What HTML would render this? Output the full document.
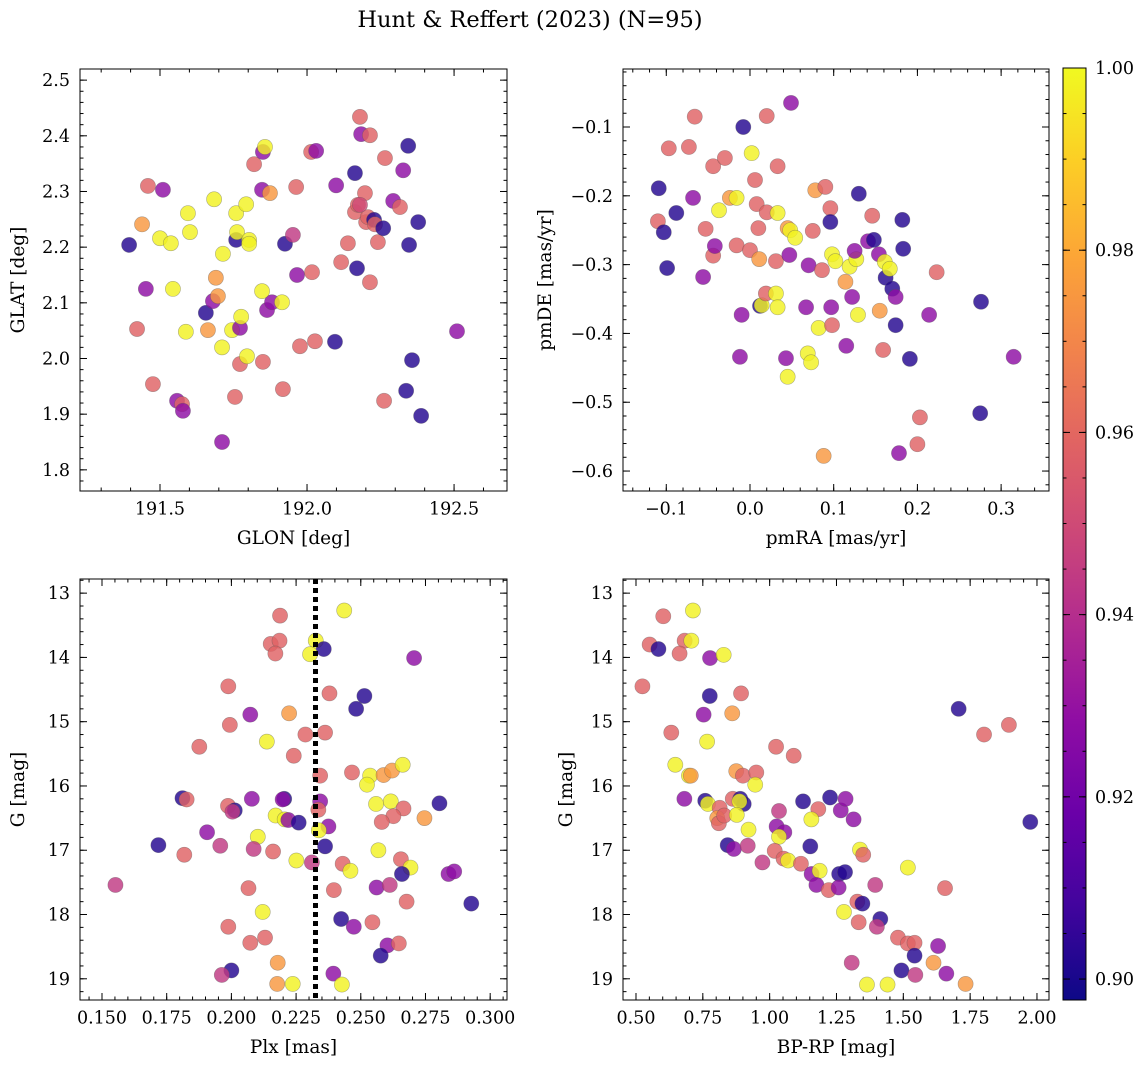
<!DOCTYPE html>
<html><head><meta charset="utf-8"><style>
html,body{margin:0;padding:0;background:#fff}
svg{display:block;font-family:"DejaVu Serif","Liberation Serif",serif}
</style></head><body>
<svg id="fig" width="1148" height="1068" viewBox="0 0 1148 1068" xmlns="http://www.w3.org/2000/svg">
<text x="530" y="27" font-size="22.5" text-anchor="middle">Hunt &amp; Reffert (2023) (N=95)</text>
</svg>
<script>
// colour classes: B=0.902 P=0.928 M=0.944 K=0.958 O=0.975 Y=0.998
const glon=[191.395,191.452,191.422,191.459,191.439,191.510,191.500,191.537,191.544,191.476,191.558,191.575,191.578,191.588,191.595,191.602,191.684,191.656,191.680,191.690,191.697,191.663,191.711,191.714,191.711,191.745,191.759,191.759,191.762,191.772,191.776,191.772,191.755,191.796,191.793,191.803,191.803,191.820,191.850,191.857,191.847,191.850,191.864,191.881,191.874,191.847,191.915,191.918,191.925,191.952,191.963,191.966,192.014,192.031,192.017,191.976,192.027,192.095,192.099,192.116,192.139,192.163,192.170,192.163,192.180,192.184,192.173,192.197,192.214,192.201,192.207,192.214,192.228,192.241,192.231,192.259,192.265,192.293,192.316,192.327,192.344,192.347,192.357,192.337,192.262,192.378,192.388,192.510,192.180];
const glat=[2.204,2.125,2.053,2.310,2.241,2.303,2.216,2.207,2.125,1.954,1.924,1.918,1.906,2.048,2.261,2.227,2.286,2.082,2.103,2.145,2.112,2.051,2.020,2.188,1.850,2.051,2.261,2.213,2.227,2.055,2.075,1.990,1.931,2.004,2.277,2.213,2.206,2.349,2.371,2.380,2.303,1.994,2.087,2.101,2.297,2.121,2.101,1.945,2.206,2.222,2.308,2.150,2.371,2.373,2.155,2.022,2.031,2.030,2.311,2.173,2.207,2.263,2.162,2.333,2.434,2.403,2.276,2.297,2.401,2.245,2.254,2.137,2.249,2.209,2.241,2.234,2.360,2.283,2.272,2.338,2.382,2.204,1.997,1.942,1.924,2.245,1.897,2.049,2.276];
const p1c="BPKKOPYYYKPKPYYYYBPOOOYYPYYBYPYKKYYYYKPYPKPPOYYKBMKPKPKKKBPKKKBBKPKKKKKKBKKBKPKPBBBBKBBP";

const pmra=[-0.110,-0.103,-0.097,-0.099,-0.088,-0.073,-0.066,-0.068,-0.053,-0.056,-0.044,-0.044,-0.042,-0.030,-0.037,-0.024,-0.016,-0.016,-0.008,-0.010,-0.012,0.000,0.002,0.006,0.008,0.010,0.011,0.012,0.014,0.020,0.020,0.019,0.031,0.033,0.033,0.031,0.033,0.045,0.048,0.049,0.054,0.047,0.043,0.045,0.067,0.070,0.069,0.073,0.075,0.078,0.082,0.086,0.090,0.088,0.096,0.096,0.098,0.097,0.098,0.102,0.114,0.115,0.119,0.122,0.127,0.129,0.130,0.125,0.141,0.146,0.148,0.154,0.155,0.159,0.161,0.162,0.167,0.170,0.174,0.174,0.178,0.182,0.183,0.191,0.200,0.203,0.214,0.223,0.276,0.275,0.315,-0.109];
const pmde=[-0.237,-0.253,-0.131,-0.305,-0.225,-0.129,-0.085,-0.203,-0.248,-0.318,-0.157,-0.287,-0.273,-0.145,-0.221,-0.203,-0.203,-0.272,-0.100,-0.373,-0.434,-0.279,-0.138,-0.177,-0.212,-0.247,-0.292,-0.360,-0.359,-0.084,-0.224,-0.342,-0.295,-0.157,-0.225,-0.342,-0.362,-0.247,-0.250,-0.065,-0.261,-0.286,-0.436,-0.463,-0.362,-0.301,-0.429,-0.442,-0.251,-0.192,-0.392,-0.308,-0.187,-0.578,-0.218,-0.238,-0.388,-0.362,-0.285,-0.295,-0.325,-0.418,-0.303,-0.347,-0.292,-0.373,-0.197,-0.280,-0.266,-0.229,-0.264,-0.285,-0.367,-0.424,-0.296,-0.319,-0.306,-0.335,-0.347,-0.388,-0.574,-0.235,-0.277,-0.437,-0.561,-0.522,-0.373,-0.311,-0.354,-0.516,-0.434,-0.189];
const p2c="KBKBBKKPKPKKPKYOYKBPPKYKKKOBYKKKKKYYYOYPYPPYPPYYKOYKKOKBKPYYOPYPYYBPPKBPOKYBYBPBPBBBKKPKBBPB";

const plx=[0.2188,0.2436,0.2152,0.2186,0.2170,0.2326,0.2357,0.2304,0.2706,0.1988,0.2379,0.2514,0.2482,0.2073,0.2223,0.1994,0.2286,0.2362,0.2137,0.1876,0.2241,0.2343,0.2466,0.2536,0.2588,0.2621,0.2662,0.2524,0.1811,0.1827,0.2079,0.2204,0.2198,0.2343,0.1987,0.2013,0.2004,0.2336,0.2559,0.2616,0.2665,0.2804,0.2171,0.2206,0.2220,0.2260,0.2626,0.2581,0.2746,0.2375,0.2338,0.1906,0.2102,0.1718,0.1957,0.2086,0.2362,0.1818,0.2161,0.2568,0.2251,0.2311,0.2430,0.2460,0.2655,0.2692,0.2659,0.2839,0.2861,0.1552,0.2066,0.2396,0.2561,0.2612,0.2677,0.2927,0.2121,0.2424,0.2473,0.2545,0.1988,0.2073,0.2130,0.2603,0.2647,0.2577,0.2179,0.2000,0.1963,0.2394,0.2177,0.2237,0.2427];
const gmag3=[13.35,13.27,13.79,13.74,13.94,13.74,13.87,13.95,14.01,14.45,14.56,14.60,14.80,14.89,14.87,15.05,15.20,15.17,15.31,15.39,15.53,15.84,15.79,15.84,15.83,15.76,15.67,15.98,16.19,16.21,16.20,16.20,16.21,16.24,16.31,16.38,16.40,16.37,16.28,16.24,16.35,16.27,16.46,16.52,16.53,16.57,16.47,16.56,16.50,16.63,16.69,16.72,16.79,16.92,16.93,16.98,16.94,17.07,17.02,17.00,17.16,17.19,17.21,17.32,17.14,17.27,17.37,17.37,17.33,17.54,17.59,17.62,17.58,17.54,17.80,17.83,17.96,18.07,18.19,18.12,18.19,18.44,18.36,18.48,18.45,18.64,18.75,18.87,18.94,18.92,19.08,19.08,19.09];
const p3c="KYKKKYBYPKKBBPOKKKYKKKKYOOYYBKPBPPKBMKYYKBYYPBKKOPYPYBMMBKKYYMKYKYBPPMKKPMKBYBPKKKKPKBOBMPOYY";

const bprp=[0.713,0.602,0.551,0.584,0.682,0.707,0.663,0.777,0.828,0.524,0.776,0.893,0.753,0.860,1.707,1.895,1.802,0.632,0.766,1.024,1.090,0.647,0.698,0.705,0.875,0.900,0.950,0.946,0.681,0.759,0.769,0.813,0.804,0.810,0.830,0.862,0.890,0.903,0.887,0.877,0.921,0.843,0.866,0.918,0.973,1.035,1.026,1.055,1.035,1.019,1.052,1.069,1.117,1.125,1.182,1.156,1.226,1.266,1.284,1.314,1.152,1.157,1.187,1.175,1.221,1.260,1.282,1.258,1.338,1.350,1.395,1.517,1.656,1.975,1.328,1.347,1.278,1.333,1.414,1.401,1.480,1.517,1.542,1.630,1.542,1.613,1.307,1.493,1.545,1.661,1.733,1.364,1.441];
const gmag4=[13.27,13.36,13.80,13.87,13.74,13.74,13.94,14.01,13.96,14.45,14.60,14.56,14.89,14.87,14.80,15.05,15.20,15.17,15.31,15.39,15.53,15.67,15.84,15.84,15.77,15.84,15.79,15.98,16.20,16.23,16.28,16.34,16.50,16.58,16.46,16.20,16.20,16.28,16.24,16.45,16.68,16.92,16.98,16.93,17.19,16.39,16.63,16.72,16.79,17.01,17.13,17.16,17.21,16.24,16.36,16.52,16.18,16.38,16.20,16.52,16.94,17.37,17.32,17.54,17.62,17.37,17.34,17.58,16.99,17.07,17.54,17.27,17.59,16.56,17.80,17.83,17.96,18.12,18.07,18.19,18.36,18.45,18.44,18.49,18.64,18.75,18.75,18.87,18.94,18.92,19.08,19.09,19.09];
const p4c="YKKBKYKPYKBKPOBKKKYKKYYOOKKYPBYKOKKKBBYYYBPMMMPPYKKYKBKYBPPPBPYPKBBPYKMYKBKBYKBMKKKPBOMBMPOYY";

const cbTicks=[0.90,0.92,0.94,0.96,0.98,1.00];
const plxRef=[0.2325];

const CLS={B:0.902,P:0.928,M:0.944,K:0.958,O:0.975,Y:0.998};
const VMIN=0.8977,VMAX=1.0;
const PL=[[13,8,135],[65,4,157],[106,0,168],[143,13,164],[177,42,144],[204,71,120],[225,100,98],[242,132,75],[252,166,54],[252,206,37],[240,249,33]];
function plasma(t){t=Math.max(0,Math.min(1,t));const f=t*10,i=Math.min(9,Math.floor(f)),u=f-i;const a=PL[i],b=PL[i+1];return 'rgb('+a.map((v,k)=>Math.round(v+(b[k]-v)*u)).join(',')+')';}
const NS='http://www.w3.org/2000/svg';
const svg=document.getElementById('fig');
function mk(tag,at,parent){const e=document.createElementNS(NS,tag);for(const k in at)e.setAttribute(k,at[k]);(parent||svg).appendChild(e);return e;}
function rng(a,b,s){const r=[];const n=Math.round((b-a)/s);for(let i=0;i<=n;i++)r.push(a+i*s);return r;}

function panel(o){
  const g=mk('g',{});
  
  
  const sx=v=>o.L+(v-o.xd[0])/(o.xd[1]-o.xd[0])*(o.R-o.L);
  const sy=v=>o.T+(v-o.yd[0])/(o.yd[1]-o.yd[0])*(o.B-o.T);
  const pg=mk('g',{},g);
  
  
  for(let i=0;i<o.xs.length;i++){
    const c=CLS[o.cs[i]]||0.95;
    const p=mk('circle',{cx:sx(o.xs[i]),cy:sy(o.ys[i]),r:7.6,fill:plasma((c-VMIN)/(VMAX-VMIN)),'fill-opacity':0.82,stroke:'#555','stroke-opacity':0.45,'stroke-width':0.6},pg);
    
    
  }
  if(o.vline){for(const v of o.vline){const l=mk('line',{x1:sx(v),x2:sx(v),y1:o.T,y2:o.B,stroke:'#000','stroke-width':5,'stroke-dasharray':'5 4'},g);
    
    }}
  const fr=mk('rect',{x:o.L,y:o.T,width:o.R-o.L,height:o.B-o.T,fill:'none',stroke:'#000','stroke-width':1},g);
  
  
  const lo=Math.min(o.xd[0],o.xd[1]),hi=Math.max(o.xd[0],o.xd[1]);
  const ylo=Math.min(o.yd[0],o.yd[1]),yhi=Math.max(o.yd[0],o.yd[1]);
  const inX=v=>v>=lo-1e-9&&v<=hi+1e-9, inY=v=>v>=ylo-1e-9&&v<=yhi+1e-9;
  for(const v of o.xMin){if(!inX(v))continue;const x=sx(v);mk('line',{x1:x,x2:x,y1:o.B,y2:o.B-3.5,stroke:'#000'},g);mk('line',{x1:x,x2:x,y1:o.T,y2:o.T+3.5,stroke:'#000'},g);}
  for(const v of o.yMin){if(!inY(v))continue;const y=sy(v);mk('line',{x1:o.L,x2:o.L+3.5,y1:y,y2:y,stroke:'#000'},g);mk('line',{x1:o.R,x2:o.R-3.5,y1:y,y2:y,stroke:'#000'},g);}
  o.xMaj.forEach((v,i)=>{if(!inX(v))return;const x=sx(v);mk('line',{x1:x,x2:x,y1:o.B,y2:o.B-7,stroke:'#000'},g);mk('line',{x1:x,x2:x,y1:o.T,y2:o.T+7,stroke:'#000'},g);
    const t=mk('text',{x:x,y:o.B+23.5,'font-size':17.5,'text-anchor':'middle'},g);t.textContent=o.xLab[i];
    
    });
  o.yMaj.forEach((v,i)=>{if(!inY(v))return;const y=sy(v);mk('line',{x1:o.L,x2:o.L+7,y1:y,y2:y,stroke:'#000'},g);mk('line',{x1:o.R,x2:o.R-7,y1:y,y2:y,stroke:'#000'},g);
    const t=mk('text',{x:o.L-10,y:y+6,'font-size':17.5,'text-anchor':'end'},g);t.textContent=o.yLab[i];
    
    });
  const xt=mk('text',{x:(o.L+o.R)/2,y:o.B+53,'font-size':18.5,'text-anchor':'middle'},g);xt.textContent=o.xlabel;
  
  
  const yc=(o.T+o.B)/2;
  const yt=mk('text',{x:o.yTitleX,y:yc,'font-size':18.5,'text-anchor':'middle',transform:'rotate(-90 '+o.yTitleX+' '+yc+')'},g);yt.textContent=o.ylabel;
  
  
}
panel({name:'glon-glat-panel',L:80,R:507,T:69,B:491,xd:[191.228,192.680],yd:[2.520,1.762],xs:glon,ys:glat,cs:p1c,
 xMaj:[191.5,192.0,192.5],xLab:['191.5','192.0','192.5'],xMin:rng(191.3,192.6,0.1),
 yMaj:rng(1.8,2.5,0.1),yLab:['1.8','1.9','2.0','2.1','2.2','2.3','2.4','2.5'],yMin:rng(1.78,2.52,0.02),
 xlabel:'GLON [deg]',ylabel:'GLAT [deg]',yTitleX:24});
panel({name:'proper-motion-panel',L:623,R:1049,T:69,B:491,xd:[-0.1517,0.3572],yd:[-0.0157,-0.629],xs:pmra,ys:pmde,cs:p2c,
 xMaj:[-0.1,0,0.1,0.2,0.3],xLab:['−0.1','0.0','0.1','0.2','0.3'],xMin:rng(-0.14,0.34,0.02),
 yMaj:[-0.6,-0.5,-0.4,-0.3,-0.2,-0.1],yLab:['−0.6','−0.5','−0.4','−0.3','−0.2','−0.1'],yMin:rng(-0.62,-0.02,0.02),
 xlabel:'pmRA [mas/yr]',ylabel:'pmDE [mas/yr]',yTitleX:551});
panel({name:'parallax-magnitude-panel',L:80,R:507,T:579,B:1000,xd:[0.1415,0.3065],yd:[12.78,19.33],xs:plx,ys:gmag3,cs:p3c,vline:plxRef,
 xMaj:rng(0.15,0.30,0.025),xLab:['0.150','0.175','0.200','0.225','0.250','0.275','0.300'],xMin:rng(0.145,0.305,0.005),
 yMaj:rng(13,19,1),yLab:['13','14','15','16','17','18','19'],yMin:rng(12.8,19.2,0.2),
 xlabel:'Plx [mas]',ylabel:'G [mag]',yTitleX:24});
panel({name:'color-magnitude-panel',L:623,R:1049,T:579,B:1000,xd:[0.4514,2.045],yd:[12.78,19.33],xs:bprp,ys:gmag4,cs:p4c,
 xMaj:rng(0.5,2.0,0.25),xLab:['0.50','0.75','1.00','1.25','1.50','1.75','2.00'],xMin:rng(0.45,2.05,0.05),
 yMaj:rng(13,19,1),yLab:['13','14','15','16','17','18','19'],yMin:rng(12.8,19.2,0.2),
 xlabel:'BP-RP [mag]',ylabel:'G [mag]',yTitleX:572});

(function(){
  const L=1063,R=1086,T=68,B=1000;
  const defs=mk('defs',{});
  const lg=mk('linearGradient',{id:'cbg',x1:0,y1:1,x2:0,y2:0},defs);
  for(let i=0;i<=20;i++){mk('stop',{offset:(i/20),'stop-color':plasma(i/20)},lg);}
  const g=mk('g',{});
  
  
  mk('rect',{x:L,y:T,width:R-L,height:B-T,fill:'url(#cbg)',stroke:'#000','stroke-width':1},g);
  const sy=v=>B-(v-VMIN)/(VMAX-VMIN)*(B-T);
  for(const v of rng(0.90,1.0,0.005)){const y=sy(v);mk('line',{x1:R,x2:R-3.5,y1:y,y2:y,stroke:'#000'},g);mk('line',{x1:L,x2:L+3.5,y1:y,y2:y,stroke:'#000'},g);}
  cbTicks.forEach(v=>{const y=sy(v);mk('line',{x1:R,x2:R-7,y1:y,y2:y,stroke:'#000'},g);mk('line',{x1:L,x2:L+7,y1:y,y2:y,stroke:'#000'},g);
    const t=mk('text',{x:R+9,y:y+6,'font-size':17.5},g);t.textContent=v.toFixed(2);
    
    });
})();
</script>
</body></html>
